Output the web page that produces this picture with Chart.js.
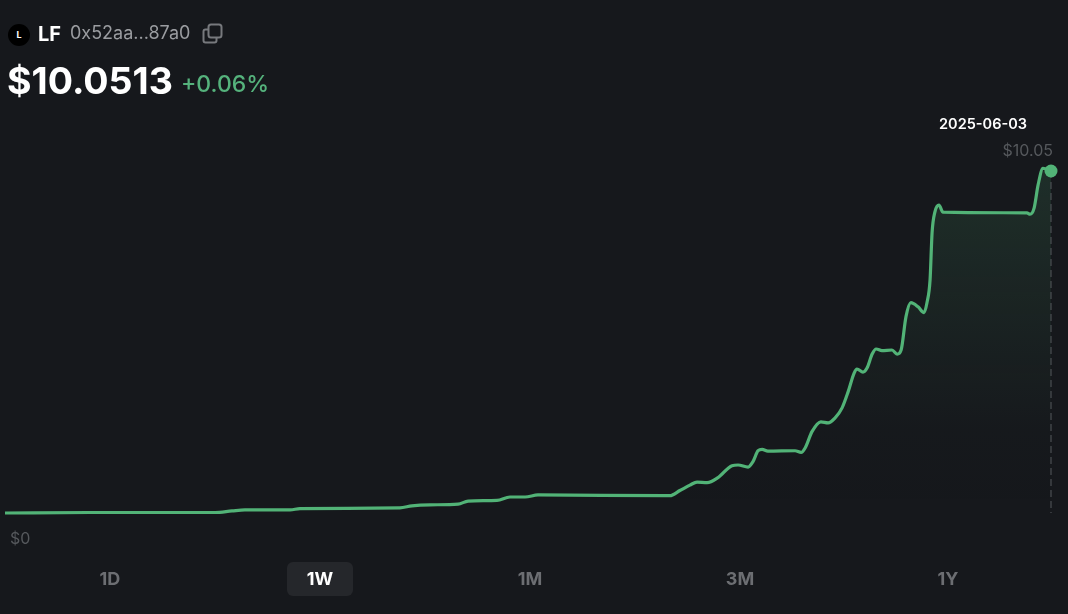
<!DOCTYPE html>
<html>
<head>
<meta charset="utf-8">
<script src="https://cdn.jsdelivr.net/npm/chart.js@4/dist/chart.umd.min.js"></script>
<style>
  html, body { margin: 0; padding: 0; background: #16181c; overflow: hidden; }
  body { width: 1068px; height: 614px; position: relative; font-family: Inter, sans-serif; }
  #price-chart { position: absolute; left: 0; top: 0; }
  .abs { position: absolute; white-space: nowrap; line-height: 1; }
  .logo { left: 8px; top: 24px; width: 22px; height: 22px; border-radius: 50%; background: #000; color: #fff; font: 700 9px/22px Inter, sans-serif; text-align: center; }
  .range { top: 570px; width: 60px; text-align: center; font: 700 18px/1 Inter, sans-serif; color: #6c6e72; }
  .active-bg { left: 287px; top: 562px; width: 66px; height: 34px; border-radius: 6px; background: #25272b; }
</style>
</head>
<body>
<canvas id="price-chart" width="1068" height="614"></canvas>

<div class="abs logo">L</div>
<div class="abs" style="left:38px;top:24px;font:700 20px/1 Inter,sans-serif;color:#fff">LF</div>
<div class="abs" style="left:70px;top:24px;font:400 18px/1 Inter,sans-serif;color:#9a9ca0">0x52aa...87a0</div>
<svg class="abs" style="left:202px;top:23px" width="22" height="22" viewBox="0 0 22 22" fill="none" stroke="#77797d" stroke-width="2">
  <rect x="6.5" y="1.5" width="13" height="13" rx="2.5"/>
  <path d="M6 6.5H3.5a2 2 0 0 0-2 2v9a2 2 0 0 0 2 2h9a2 2 0 0 0 2-2V15"/>
</svg>
<div class="abs" style="left:7px;top:62px;font:700 37.5px/1 Inter,sans-serif;color:#fff">$10.0513</div>
<div class="abs" style="left:181px;top:73px;font:500 23px/1 Inter,sans-serif;color:#55b27c">+0.06%</div>

<div class="abs active-bg"></div>
<div class="abs range" style="left:80px">1D</div>
<div class="abs range" style="left:290px;color:#fff">1W</div>
<div class="abs range" style="left:500px">1M</div>
<div class="abs range" style="left:710px">3M</div>
<div class="abs range" style="left:918px">1Y</div>

<script>
// days since the start of the window
const days = [0, 29.7, 73.3, 79.2, 83.7, 99.5, 102.9, 137.8, 142.0, 148.3, 158.1, 161.6, 171.7, 176.2, 181.5, 186.0,
  230.3, 232.0, 235.5, 239.0, 241.5, 245.0, 248.8, 253.7, 255.8, 259.3, 261.0, 262.8, 264.2, 266.2, 275.7, 277.8,
  279.2, 281.6, 284.7, 287.2, 289.6, 292.1, 294.2, 296.3, 297.3, 299.4, 300.8, 302.6, 304.0, 306.0, 309.5, 311.3,
  312.7, 314.4, 316.1, 318.6, 320.7, 321.7, 322.8, 323.5, 324.5, 325.9, 327.3, 356.6, 357.7, 359.1, 360.5, 362.2, 365];

// price in USD
const prices = [0, 0.015, 0.015, 0.06, 0.09, 0.09, 0.13, 0.15, 0.21, 0.24, 0.26, 0.35, 0.37, 0.47, 0.47, 0.53,
  0.51, 0.51, 0.66, 0.82, 0.91, 0.89, 1.04, 1.39, 1.41, 1.35, 1.51, 1.83, 1.87, 1.82, 1.83, 1.78,
  1.91, 2.39, 2.68, 2.65, 2.79, 3.09, 3.56, 4.11, 4.23, 4.14, 4.26, 4.67, 4.82, 4.77, 4.79, 4.67,
  4.79, 5.77, 6.18, 6.06, 5.89, 6.17, 6.85, 8.23, 8.85, 9.05, 8.84, 8.82, 8.78, 8.96, 9.64, 10.13, 10.05];

const lastDate = '2025-06-03';
const lastPriceLabel = '$10.05';
const minPriceLabel = '$0';

const GREEN = '#52b377';
const lastIdx = prices.length - 1;

const markerPlugin = {
  id: 'lastMarker',
  afterDatasetsDraw(chart) {
    const { ctx, scales: { x, y } } = chart;
    const px = x.getPixelForValue(days[lastIdx]);
    const py = y.getPixelForValue(prices[lastIdx]);
    const base = y.getPixelForValue(0);

    ctx.save();
    // dashed guide down from the last point
    ctx.strokeStyle = '#55585c';
    ctx.lineWidth = 1;
    ctx.setLineDash([7, 4]);
    ctx.beginPath();
    ctx.moveTo(px, py);
    ctx.lineTo(px, base);
    ctx.stroke();
    ctx.setLineDash([]);

    ctx.beginPath();
    ctx.arc(px, py, 6.5, 0, Math.PI * 2);
    ctx.fillStyle = GREEN;
    ctx.fill();

    ctx.textBaseline = 'middle';
    ctx.textAlign = 'center';
    ctx.fillStyle = '#fff';
    ctx.font = '600 14.5px Inter, sans-serif';
    ctx.fillText(lastDate, px - 68, py - 46);

    ctx.textAlign = 'right';
    ctx.fillStyle = '#55585c';
    ctx.font = '400 16px Inter, sans-serif';
    ctx.fillText(lastPriceLabel, px + 2, py - 20);

    ctx.textAlign = 'left';
    ctx.fillText(minPriceLabel, x.getPixelForValue(0) + 5, base + 26);
    ctx.restore();
  }
};

new Chart(document.getElementById('price-chart'), {
  type: 'line',
  plugins: [markerPlugin],
  data: {
    datasets: [{
      data: days.map((d, i) => ({ x: d, y: prices[i] })),
      borderColor: GREEN,
      borderWidth: 3.2,
      pointRadius: 0,
      cubicInterpolationMode: 'monotone',
      clip: false,
      fill: 'origin',
      backgroundColor: (c) => {
        const area = c.chart.chartArea;
        if (!area) return 'transparent';
        const g = c.chart.ctx.createLinearGradient(0, area.top, 0, area.bottom);
        g.addColorStop(0, 'rgba(82,179,119,0.15)');
        g.addColorStop(0.75, 'rgba(82,179,119,0.01)');
        g.addColorStop(1, 'rgba(82,179,119,0)');
        return g;
      }
    }]
  },
  options: {
    responsive: false,
    animation: false,
    layout: { padding: { left: 5, right: 17, top: 171, bottom: 101 } },
    plugins: { legend: { display: false }, tooltip: { enabled: false } },
    scales: {
      x: { type: 'linear', display: false, min: 0, max: 365 },
      y: { display: false, min: 0, max: 10.05 }
    }
  }
});
</script>
</body>
</html>
